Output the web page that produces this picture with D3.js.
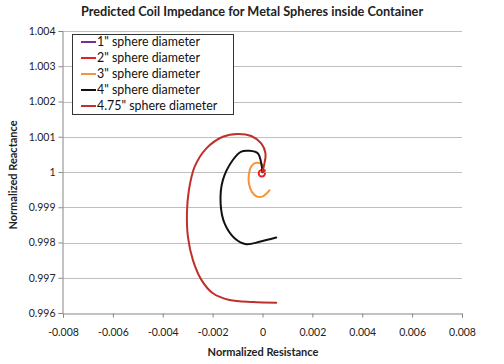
<!DOCTYPE html>
<html><head><meta charset="utf-8">
<script src="https://cdn.jsdelivr.net/npm/d3@7"></script>
<style>body{margin:0;background:#fff}svg{display:block}text{font-family:Lato,"Open Sans",sans-serif}</style>
</head><body><svg id="c" width="504" height="364"></svg>
<script>
const title = "Predicted Coil Impedance for Metal Spheres inside Container";
const xTitle = "Normalized Resistance";
const yTitle = "Normalized Reactance";
const xTicks = [-0.008,-0.006,-0.004,-0.002,0,0.002,0.004,0.006,0.008];
const yTicks = [0.996,0.997,0.998,0.999,1,1.001,1.002,1.003,1.004];
const seriesNames = ['1" sphere diameter','2" sphere diameter','3" sphere diameter','4" sphere diameter','4.75" sphere diameter'];
const seriesColors = ["#7030a0","#ee1c25","#f7923a","#111111","#c0302b"];
// [resistance, reactance]
const s1 = [[0,1],[0.00002,1.00001],[0,1.00002],[-0.00002,1.00001],[-0.00001,0.99999],[0.00001,0.99999]];
const s2 = [[0,1],[0.0001,1.00004],[0.00004,1.00006],[-0.00008,1.00005],[-0.00015,0.99998],[-0.00012,0.9999],[-0.00003,0.99987],[0.00007,0.9999],[0.0001,0.99996]];
const s3 = [[0,1],[0,1.0002],[-0.00024,1.00026],[-0.00044,1.00017],[-0.00055,0.99991],[-0.00054,0.99966],[-0.00042,0.99943],[-0.00022,0.9993],[0.00001,0.99931],[0.00028,0.99948]];
const s4 = [[0,1],[-0.00005,1.00025],[-0.00019,1.00053],[-0.00052,1.0006],[-0.00085,1.00058],[-0.00119,1.00034],[-0.00159,0.99977],[-0.00168,0.99911],[-0.00152,0.99854],[-0.00112,0.99812],[-0.00065,0.99795],[-0.00012,0.99802],[0.00055,0.99814]];
const s5 = [[0,1],[0.00008,1.00025],[0.00012,1.00053],[-0.00005,1.00081],[-0.00045,1.00102],[-0.00099,1.00108],[-0.00159,1.001],[-0.00225,1.00067],[-0.00272,1.00015],[-0.00295,0.99949],[-0.00303,0.99883],[-0.00299,0.99816],[-0.00279,0.9975],[-0.00245,0.99694],[-0.00199,0.99656],[-0.00132,0.99637],[-0.00039,0.99631],[0.00055,0.99629]];
const seriesData = [s1,s2,s3,s4,s5];

const svg = d3.select("#c");
const L=63,R=462,T=31,B=313;
const x = d3.scaleLinear().domain([-0.008,0.008]).range([L,R]);
const y = d3.scaleLinear().domain([0.996,1.004]).range([B,T]);

// gridlines
svg.append("g").selectAll("line").data(yTicks.slice(1)).join("line")
  .attr("x1",L).attr("x2",R).attr("y1",d=>Math.round(y(d))+0.5).attr("y2",d=>Math.round(y(d))+0.5)
  .attr("stroke","#bfbfbf").attr("stroke-width",1);

// axes
const fmt = d=> d===0?"0":(d===1?"1":String(+d.toFixed(3)));
const xa = svg.append("g").attr("transform",`translate(0,${B+0.5})`)
  .call(d3.axisBottom(x).tickValues(xTicks).tickSize(4).tickFormat(fmt));
const ya = svg.append("g").attr("transform",`translate(${L-0.5},0)`)
  .call(d3.axisLeft(y).tickValues(yTicks).tickSize(4).tickFormat(fmt));
[xa,ya].forEach(a=>{
  a.selectAll("path,line").attr("stroke","#868686");
  a.selectAll("text").attr("fill","#222").style("font-size","10.5px").style("font-family","Lato,sans-serif");
});
xa.selectAll("text").attr("dy","1.45em");
ya.selectAll("text").attr("x",-7);

// series
const line = d3.line().x(d=>x(d[0])).y(d=>y(d[1])).curve(d3.curveCatmullRom.alpha(0.5));
svg.append("g").selectAll("path").data(seriesData).join("path")
  .attr("d",line).attr("fill","none").attr("stroke",(d,i)=>seriesColors[i])
  .attr("stroke-width",2).attr("stroke-linejoin","round").attr("stroke-linecap","round");

// legend
const lg = svg.append("g");
lg.append("rect").attr("x",72.5).attr("y",34.5).attr("width",161).attr("height",80)
  .attr("fill","#fff").attr("stroke","#333").attr("stroke-width",1);
seriesNames.forEach((n,i)=>{
  const yy = 42 + i*16;
  lg.append("line").attr("x1",81).attr("x2",96).attr("y1",yy).attr("y2",yy)
    .attr("stroke",seriesColors[i]).attr("stroke-width",2);
  lg.append("text").attr("x",97).attr("y",yy).attr("dy","0.35em").text(n)
    .style("font-size","12.4px").attr("fill","#111");
});

// titles
svg.append("text").attr("x",252).attr("y",16).attr("text-anchor","middle")
  .style("font-size","12.7px").style("font-weight","bold").attr("fill","#222").text(title);
svg.append("text").attr("x",263).attr("y",356).attr("text-anchor","middle")
  .style("font-size","11px").style("font-weight","bold").attr("fill","#222").text(xTitle);
svg.append("text").attr("transform","translate(17,175) rotate(-90)").attr("text-anchor","middle")
  .style("font-size","11px").style("font-weight","bold").attr("fill","#222").text(yTitle);
</script></body></html>
